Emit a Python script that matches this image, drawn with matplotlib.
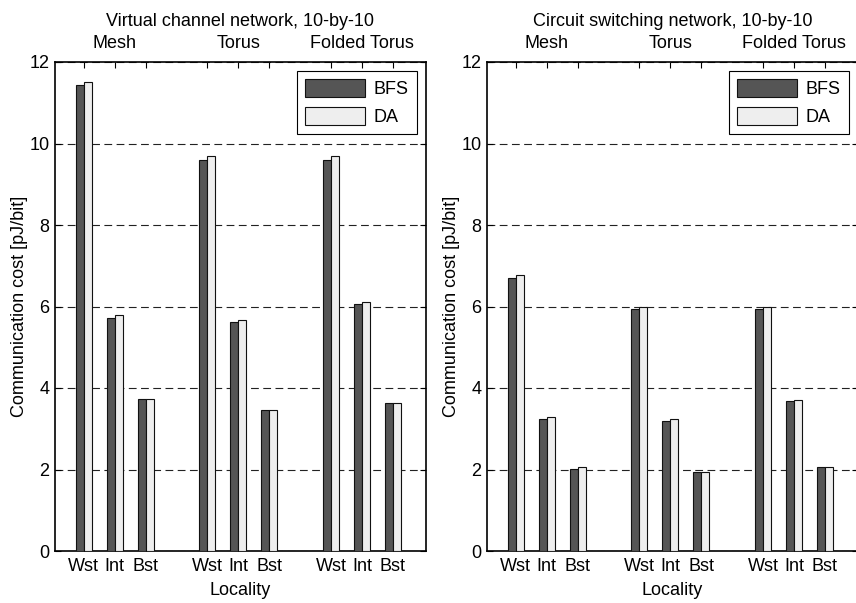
import matplotlib
matplotlib.use("Agg")
import matplotlib.pyplot as plt
import numpy as np

plt.rcParams['font.family'] = ['Liberation Sans', 'DejaVu Sans']

topologies = ["Mesh", "Torus", "Folded Torus"]
localities = ["Wst", "Int", "Bst"]
series_names = ["BFS", "DA"]

# Virtual channel network, 10-by-10 (Mesh, Torus, Folded Torus x Wst, Int, Bst)
vc_bfs = [11.43, 5.72, 3.72, 9.60, 5.61, 3.47, 9.60, 6.05, 3.62]
vc_da = [11.50, 5.78, 3.72, 9.70, 5.67, 3.47, 9.70, 6.12, 3.62]

# Circuit switching network, 10-by-10
cs_bfs = [6.70, 3.25, 2.02, 5.93, 3.19, 1.93, 5.93, 3.67, 2.06]
cs_da = [6.77, 3.29, 2.05, 6.00, 3.25, 1.93, 6.00, 3.70, 2.06]

titles = ["Virtual channel network, 10-by-10", "Circuit switching network, 10-by-10"]
yticks = [0, 2, 4, 6, 8, 10, 12]

bfs_color = "#555555"
da_color = "#eeeeee"
FS = 13

W, H = 856, 603
fig = plt.figure(figsize=(W / 100, H / 100), dpi=100)

ax_w = 371 / W
ax_h = 489 / H
ax_b = (H - 551) / H
lefts = [55 / W, 487 / W]

# x positions: groups of three localities separated by one empty slot
xpos = []
for g in range(len(topologies)):
    for k in range(len(localities)):
        xpos.append(1 + 4 * g + k)
xpos = np.array(xpos, dtype=float)
bw = 0.26

datasets = [(vc_bfs, vc_da), (cs_bfs, cs_da)]
for i, (bfs, da) in enumerate(datasets):
    ax = fig.add_axes([lefts[i], ax_b, ax_w, ax_h])
    ax.set_axisbelow(True)
    ax.bar(xpos - bw, bfs, width=bw, align="edge", color=bfs_color,
           edgecolor="#111111", linewidth=0.8, label=series_names[0], zorder=3)
    ax.bar(xpos, da, width=bw, align="edge", color=da_color,
           edgecolor="#111111", linewidth=0.8, label=series_names[1], zorder=3)

    ax.set_xlim(0.07, 12.07)
    ax.set_ylim(0, 12)
    ax.set_yticks(yticks)
    ax.set_xticks(xpos)
    ax.set_xticklabels(localities * len(topologies))
    ax.tick_params(direction="in", top=True, right=True, length=4,
                   width=0.8, labelsize=FS, pad=5)
    ax.tick_params(axis="y", pad=4)
    for s in ax.spines.values():
        s.set_linewidth(1.2)
        s.set_color("black")
    ax.yaxis.grid(True, linestyle=(0, (7, 4)), color="#222222", linewidth=0.8)
    ax.set_ylabel("Communication cost [pJ/bit]", fontsize=FS, labelpad=1)
    ax.set_xlabel("Locality", fontsize=FS, labelpad=5)

    # topology names above the axes
    for g, name in enumerate(topologies):
        ax.text(2 + 4 * g, 1.021, name, transform=ax.get_xaxis_transform(),
                ha="center", va="bottom", fontsize=FS)
    ax.set_title(titles[i], fontsize=FS, pad=26)

    leg = ax.legend(loc="upper right", fontsize=FS, handlelength=3.3,
                    handleheight=1.15, borderpad=0.45, labelspacing=0.5,
                    handletextpad=0.5, borderaxespad=0.5,
                    fancybox=False, framealpha=1, edgecolor="black")
    leg.get_frame().set_linewidth(0.8)

fig.savefig("out.png", dpi=100)
